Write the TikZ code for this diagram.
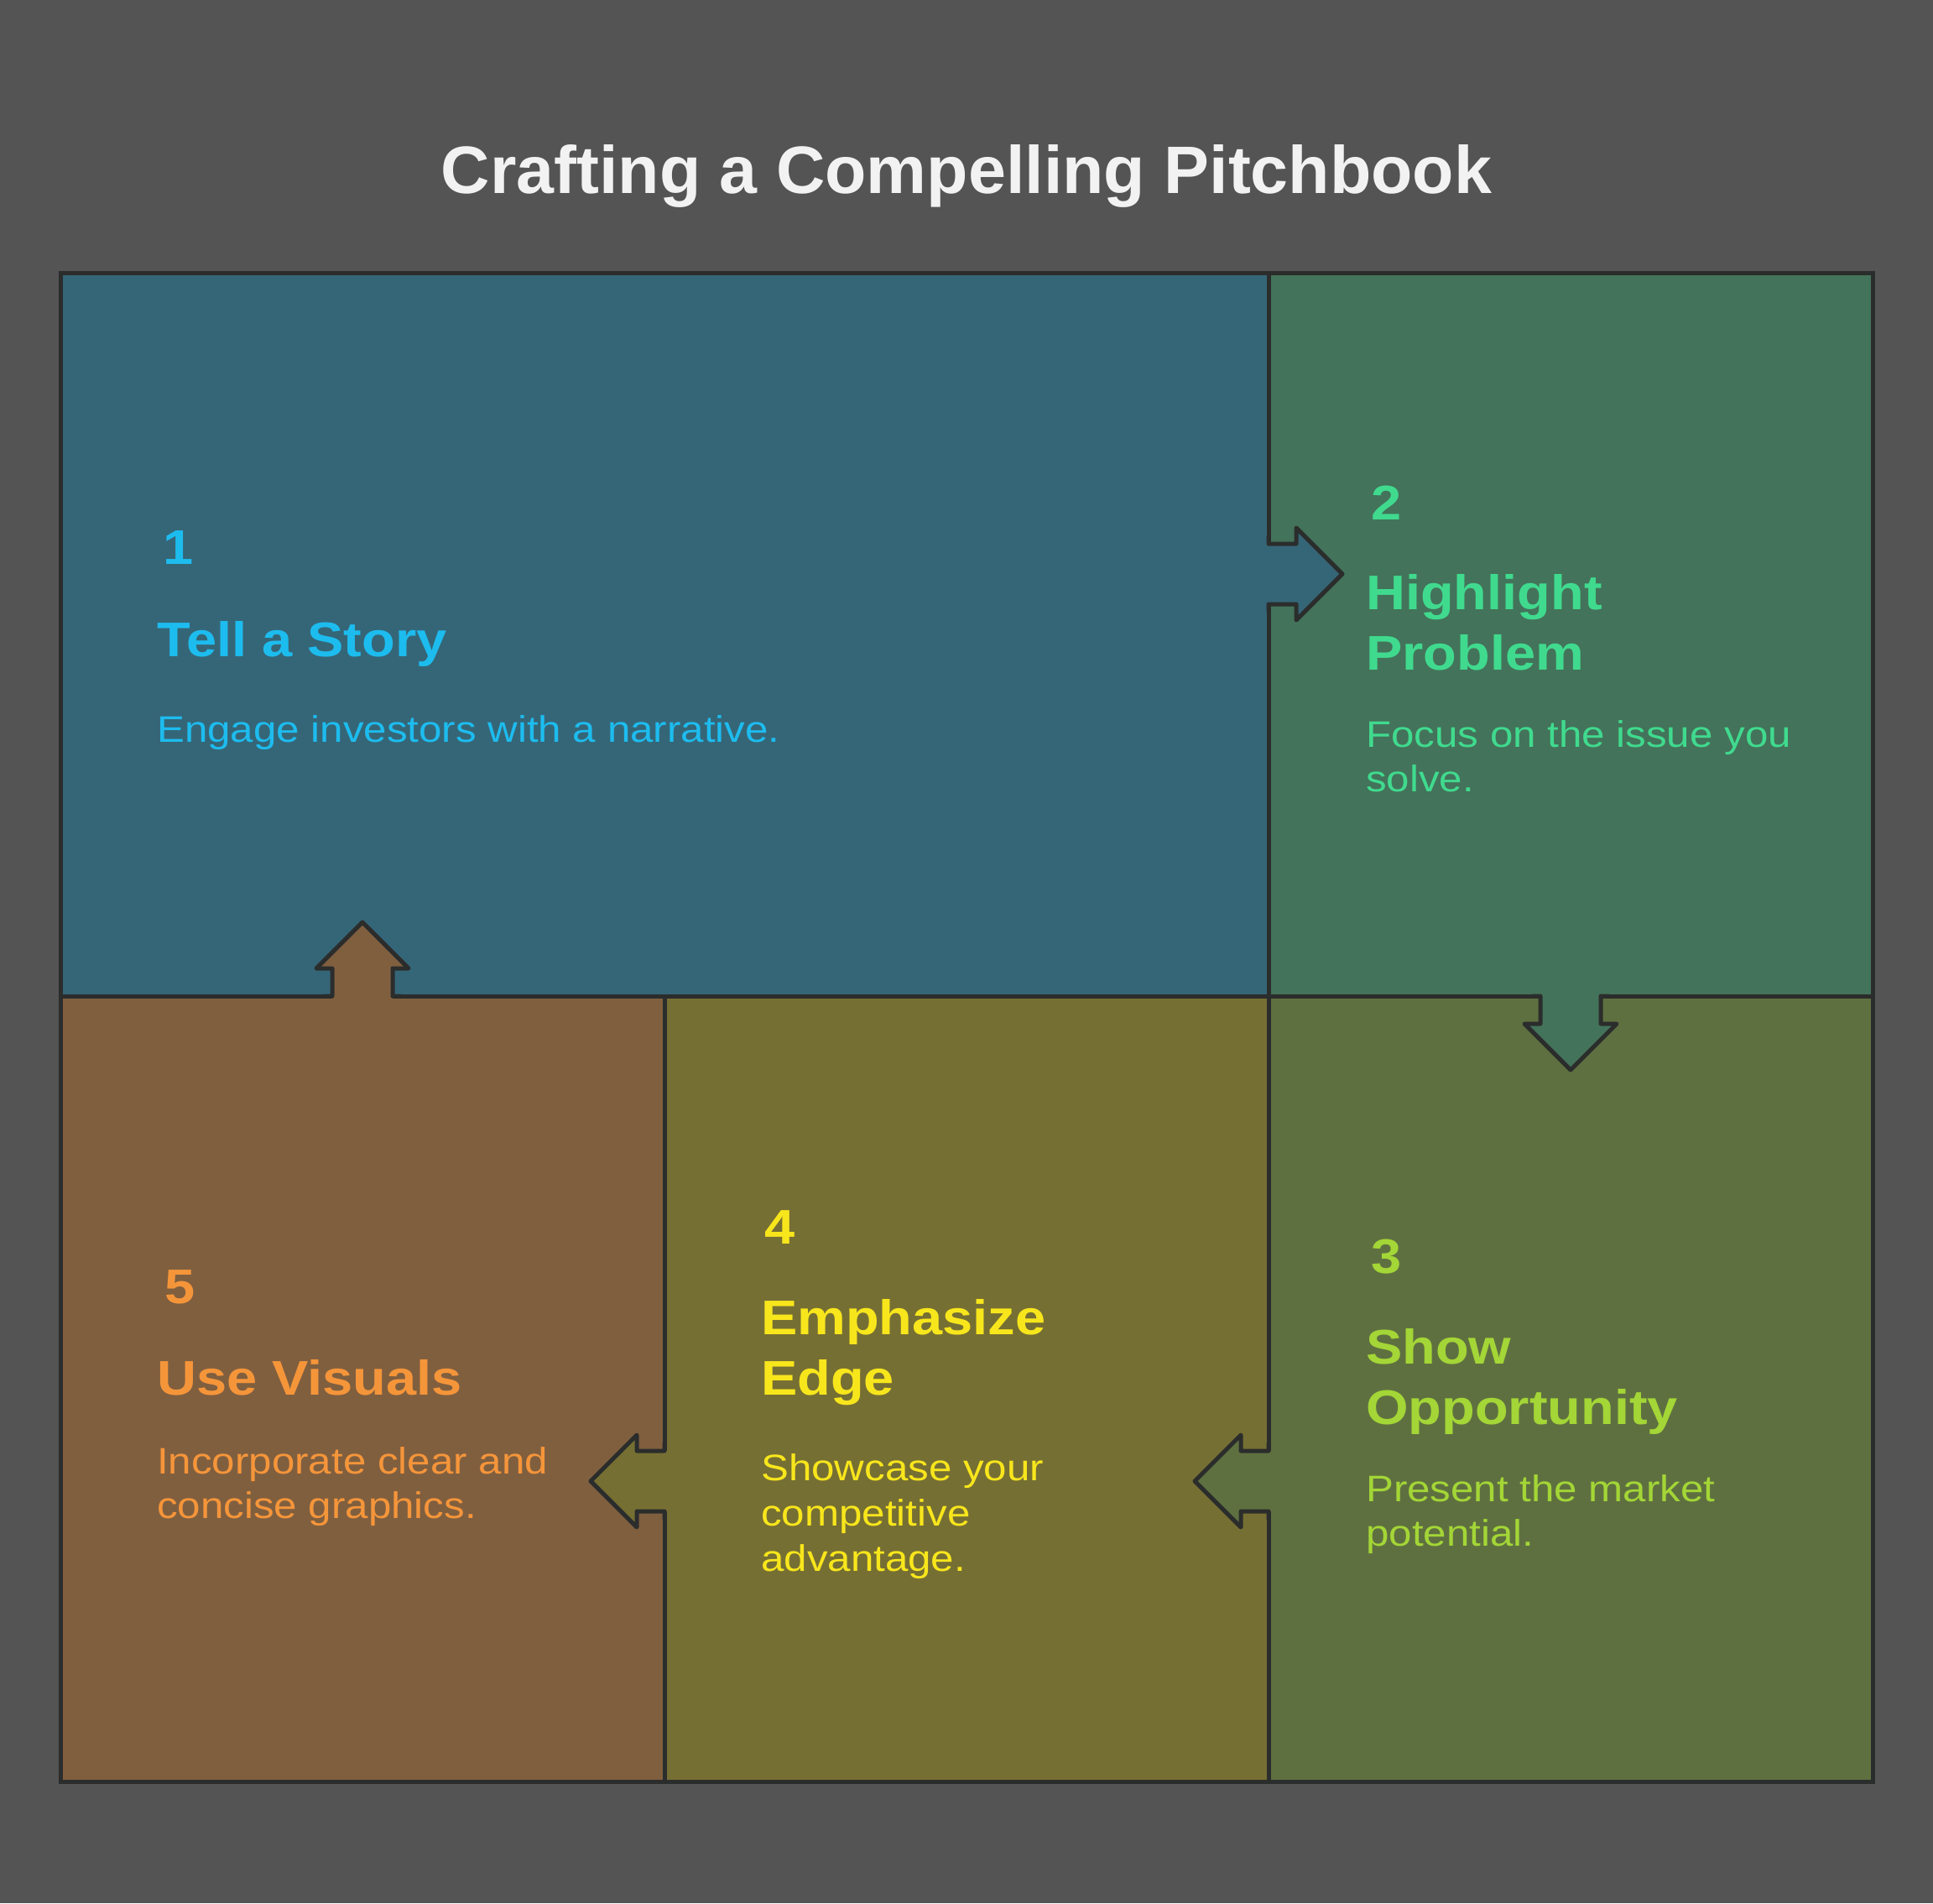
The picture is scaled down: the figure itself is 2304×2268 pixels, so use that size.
\documentclass[tikz,border=0pt]{standalone}
\usepackage{fontspec}
\setmainfont{Liberation Sans}
\newfontfamily\titlefont{Liberation Sans}[FakeStretch=1.01]
\newfontfamily\headfont{Liberation Sans}[FakeStretch=1.12]
\newfontfamily\bodyfont{Liberation Sans}[FakeStretch=1.12]
\usetikzlibrary{calc}
\definecolor{bg}{HTML}{545454}
\definecolor{edgec}{HTML}{2B2D2C}
\definecolor{fone}{HTML}{356677}
\definecolor{ftwo}{HTML}{43735A}
\definecolor{fthree}{HTML}{5F7040}
\definecolor{ffour}{HTML}{766F33}
\definecolor{ffive}{HTML}{805F3F}
\definecolor{tone}{HTML}{1DBCEF}
\definecolor{ttwo}{HTML}{40DA8E}
\definecolor{tthree}{HTML}{A3D636}
\definecolor{tfour}{HTML}{F8E61C}
\definecolor{tfive}{HTML}{F5953A}
\definecolor{ttitle}{HTML}{F2F2F2}
\newcommand\flowarrow[3]{%
  \begin{scope}[shift={#1},rotate=#2]
    \fill[#3] (-6,-36) -- (33,-36) -- (33,-55) -- (88,0) -- (33,55) -- (33,36) -- (-6,36) -- cycle;
    \draw[edgeline] (0,-46) -- (0,-36) -- (33,-36) -- (33,-55) -- (88,0) -- (33,55) -- (33,36) -- (0,36) -- (0,46);
  \end{scope}}
\begin{document}
\begin{tikzpicture}[x=1pt,y=-1pt,
  panel/.style={draw=edgec, line width=5pt, rectangle, outer sep=0pt, inner sep=0pt, anchor=north west},
  edgeline/.style={draw=edgec, line width=5pt, line join=round},
  numtxt/.style={anchor=base west, inner sep=0pt, font=\headfont\bfseries\fontsize{58}{58}\selectfont},
  headtxt/.style={anchor=base west, inner sep=0pt, font=\headfont\bfseries\fontsize{58}{72}\selectfont},
  bodytxt/.style={anchor=base west, inner sep=0pt, font=\bodyfont\fontsize{44}{54}\selectfont}]
\fill[bg] (0,0) rectangle (2304,2268);
\useasboundingbox (0,0) rectangle (2304,2268);
\node[anchor=base, inner sep=0pt, text=ttitle, font=\titlefont\bfseries\fontsize{80}{80}\selectfont] (title) at (1152,230) {Crafting a Compelling Pitchbook};
% panels
\node[panel, fill=fone, minimum width=1440pt, minimum height=862pt] (b1) at (72,325) {};
\node[panel, fill=ftwo, minimum width=720pt, minimum height=862pt] (b2) at (1512,325) {};
\node[panel, fill=fthree, minimum width=720pt, minimum height=936pt] (b3) at (1512,1187) {};
\node[panel, fill=ffour, minimum width=720pt, minimum height=936pt] (b4) at (792,1187) {};
\node[panel, fill=ffive, minimum width=720pt, minimum height=936pt] (b5) at (72,1187) {};
% arrows
\flowarrow{($(b1.north east)+(0,359)$)}{0}{fone}
\flowarrow{(b2.south)}{-90}{ftwo}
\flowarrow{($(b3.north west)+(0,578)$)}{180}{fthree}
\flowarrow{($(b4.north west)+(0,578)$)}{180}{ffour}
\flowarrow{(b5.north)}{90}{ffive}
% box 1
\node[numtxt, text=tone] (n1) at (194,672) {1};
\node[headtxt, text=tone] (h1) at (187,782) {Tell a Story};
\node[bodytxt, text=tone] (d1) at (187,884) {Engage investors with a narrative.};
% box 2
\node[numtxt, text=ttwo] (n2) at (1634,619) {2};
\node[headtxt, text=ttwo] (h2a) at (1628,726) {Highlight};
\node[headtxt, text=ttwo] (h2b) at (1628,798) {Problem};
\node[bodytxt, text=ttwo] (d2a) at (1628,890) {Focus on the issue you};
\node[bodytxt, text=ttwo] (d2b) at (1628,943) {solve.};
% box 3
\node[numtxt, text=tthree] (n3) at (1634,1517) {3};
\node[headtxt, text=tthree] (h3a) at (1628,1625) {Show};
\node[headtxt, text=tthree] (h3b) at (1628,1697) {Opportunity};
\node[bodytxt, text=tthree] (d3a) at (1628,1789) {Present the market};
\node[bodytxt, text=tthree] (d3b) at (1628,1842) {potential.};
% box 4
\node[numtxt, text=tfour] (n4) at (911,1482) {4};
\node[headtxt, text=tfour] (h4a) at (907,1590) {Emphasize};
\node[headtxt, text=tfour] (h4b) at (907,1662) {Edge};
\node[bodytxt, text=tfour] (d4a) at (907,1764) {Showcase your};
\node[bodytxt, text=tfour] (d4b) at (907,1818) {competitive};
\node[bodytxt, text=tfour] (d4c) at (907,1872) {advantage.};
% box 5
\node[numtxt, text=tfive] (n5) at (196,1553) {5};
\node[headtxt, text=tfive] (h5) at (187,1662) {Use Visuals};
\node[bodytxt, text=tfive] (d5a) at (187,1756) {Incorporate clear and};
\node[bodytxt, text=tfive] (d5b) at (187,1809) {concise graphics.};
\end{tikzpicture}
\end{document}
